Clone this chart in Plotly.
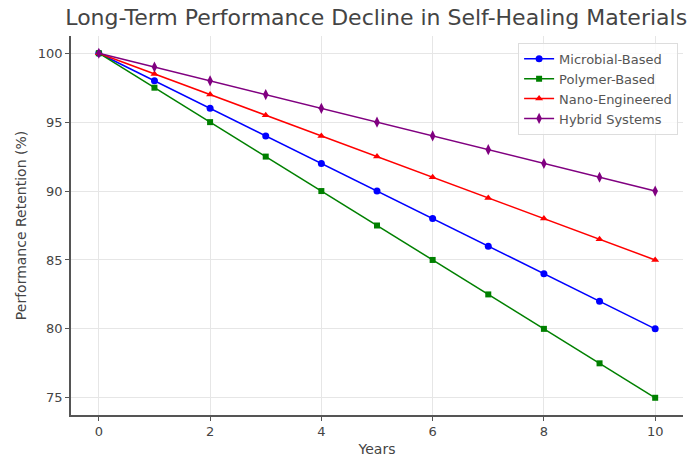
import plotly.graph_objects as go

years = list(range(0, 11))
microbial = [100, 98, 96, 94, 92, 90, 88, 86, 84, 82, 80]
polymer = [100, 97.5, 95, 92.5, 90, 87.5, 85, 82.5, 80, 77.5, 75]
nano = [100, 98.5, 97, 95.5, 94, 92.5, 91, 89.5, 88, 86.5, 85]
hybrid = [100, 99, 98, 97, 96, 95, 94, 93, 92, 91, 90]

series = [
    ("Microbial-Based", microbial, "#0000ff", "circle", 7),
    ("Polymer-Based", polymer, "#008000", "square", 6),
    ("Nano-Engineered", nano, "#ff0000", "triangle-up", 7),
    ("Hybrid Systems", hybrid, "#800080", "diamond-tall", 8),
]

fig = go.Figure()
for name, vals, color, sym, size in series:
    fig.add_trace(go.Scatter(
        x=years, y=vals, name=name, mode="lines+markers",
        line=dict(color=color, width=1.5),
        marker=dict(symbol=sym, size=size, color=color),
    ))

font = "DejaVu Sans, Verdana, sans-serif"
fig.update_layout(
    width=689, height=461,
    margin=dict(l=71, r=6, t=36, b=44),
    paper_bgcolor="white", plot_bgcolor="white",
    font=dict(family=font, color="#444", size=12),
    title=dict(text="Long-Term Performance Decline in Self-Healing Materials",
               x=0.546, xanchor="center", y=0.962, yanchor="middle",
               font=dict(size=22, color="#444")),
    showlegend=True,
    legend=dict(x=0.992, y=0.982, xanchor="right", yanchor="top",
                bgcolor="rgba(255,255,255,0.8)", bordercolor="#ddd", borderwidth=1,
                font=dict(size=13, color="#555"), tracegroupgap=0, itemwidth=30),
)
fig.update_xaxes(
    range=[-0.5, 10.5], tickvals=[0, 2, 4, 6, 8, 10],
    showgrid=True, gridcolor="#e6e6e6", gridwidth=1,
    showline=True, linecolor="#555", linewidth=1.5,
    ticks="outside", ticklen=4, tickcolor="#555",
    tickfont=dict(size=13), zeroline=False,
    title=dict(text="Years", font=dict(size=14), standoff=6),
)
fig.update_yaxes(
    range=[73.75, 101.25], tickvals=[75, 80, 85, 90, 95, 100],
    showgrid=True, gridcolor="#e6e6e6", gridwidth=1,
    showline=True, linecolor="#555", linewidth=1.5,
    ticks="outside", ticklen=4, tickcolor="#555",
    tickfont=dict(size=13), zeroline=False,
    title=dict(text="Performance Retention (%)", font=dict(size=14), standoff=8),
)
fig.write_html("out.html")
